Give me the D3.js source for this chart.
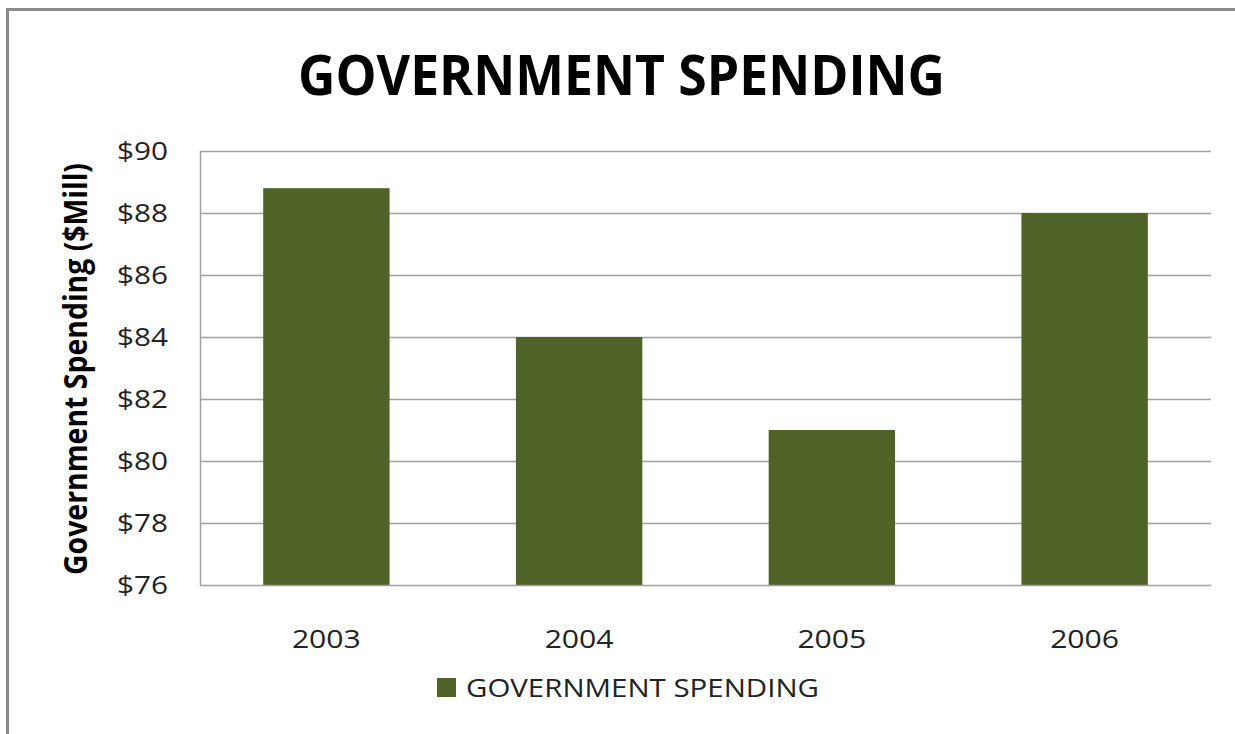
<!DOCTYPE html>
<html><head><meta charset="utf-8">
<script src="https://cdn.jsdelivr.net/npm/d3@7"></script>
<style>body{margin:0;background:#fff;} svg{display:block;}</style>
</head><body>
<svg id="c" width="1235" height="734"></svg>
<script>
const categories = ["2003","2004","2005","2006"];
const values = [88.8, 84, 81, 88];
const yTicks = [76,78,80,82,84,86,88,90];
const title = "GOVERNMENT SPENDING";
const yTitle = "Government Spending ($Mill)";
const seriesName = "GOVERNMENT SPENDING";

const svg = d3.select("#c");
const font = "'Open Sans', 'Liberation Sans', sans-serif";
const barColor = "#4f6228";
const gridColor = "#a0a0a0";

// outer border
svg.append("rect").attr("x",7.5).attr("y",9.5).attr("width",1240).attr("height",740)
  .attr("fill","#fff").attr("stroke","#8a8a8a").attr("stroke-width",3);

const L=200, R=1211, T=151, B=585;
const x = d3.scaleBand().domain(categories).range([L,R]).paddingInner(0.5).paddingOuter(0.25);
const y = d3.scaleLinear().domain([76,90]).range([B,T]);

// gridlines
svg.append("g").selectAll("line").data(yTicks.slice(1)).join("line")
  .attr("x1",L).attr("x2",R).attr("y1",d=>Math.round(y(d))+0.5).attr("y2",d=>Math.round(y(d))+0.5)
  .attr("stroke",gridColor).attr("stroke-width",1.5);

// bars
svg.append("g").selectAll("rect").data(values).join("rect")
  .attr("x",(d,i)=>x(categories[i])).attr("width",x.bandwidth())
  .attr("y",d=>y(d)).attr("height",d=>B-y(d)).attr("fill",barColor);

// axes lines
svg.append("line").attr("x1",L+0.5).attr("x2",L+0.5).attr("y1",T).attr("y2",B+0.5).attr("stroke",gridColor).attr("stroke-width",1.5);
svg.append("line").attr("x1",L).attr("x2",R).attr("y1",B+0.5).attr("y2",B+0.5).attr("stroke",gridColor).attr("stroke-width",1.5);

// y tick labels
svg.append("g").selectAll("text").data(yTicks).join("text")
  .attr("x",168).attr("y",d=>y(d)).attr("dy","0.35em").attr("text-anchor","end")
  .attr("font-family",font).attr("font-size",25).attr("fill","#222")
  .attr("textLength",51).attr("lengthAdjust","spacingAndGlyphs")
  .text(d=>"$"+d);

// x tick labels
svg.append("g").selectAll("text").data(categories).join("text")
  .attr("x",d=>x(d)+x.bandwidth()/2).attr("y",648).attr("text-anchor","middle")
  .attr("font-family",font).attr("font-size",25).attr("fill","#222")
  .attr("textLength",69).attr("lengthAdjust","spacingAndGlyphs")
  .text(d=>d);

// title
svg.append("text").attr("x",621.5).attr("y",95).attr("text-anchor","middle")
  .attr("font-family",font).attr("font-weight","bold").attr("font-size",56).attr("fill","#000")
  .attr("textLength",647).attr("lengthAdjust","spacingAndGlyphs").text(title);

// y title
svg.append("text").attr("transform","translate(87,369) rotate(-90)").attr("text-anchor","middle")
  .attr("font-family",font).attr("font-weight","bold").attr("font-size",33).attr("fill","#000")
  .attr("textLength",412).attr("lengthAdjust","spacingAndGlyphs").text(yTitle);

// legend
svg.append("rect").attr("x",437).attr("y",678).attr("width",19).attr("height",19).attr("fill",barColor);
svg.append("text").attr("x",466).attr("y",697)
  .attr("font-family",font).attr("font-size",25).attr("fill","#222")
  .attr("textLength",353).attr("lengthAdjust","spacingAndGlyphs").text(seriesName);
</script>
</body></html>
